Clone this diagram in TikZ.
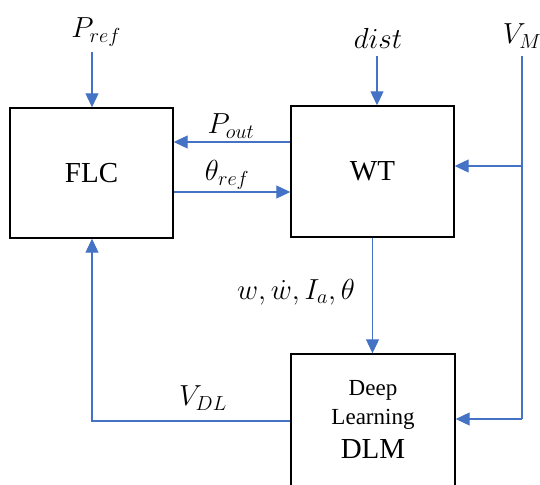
\RequirePackage{fix-cm}
\documentclass[tikz,border=0pt]{standalone}
\usepackage{fontspec}
\setmainfont{Liberation Serif}
\usetikzlibrary{arrows.meta}
\definecolor{lblue}{HTML}{4472C4}
\begin{document}
\begin{tikzpicture}[x=1pt,y=-1pt,
  box/.style={draw=black,line width=1.4pt,rectangle,inner sep=0pt,font=\fontsize{29}{33}\selectfont},
  conn/.style={draw=lblue,line width=1.1pt},
  arr/.style={conn,-{Triangle[length=14pt,width=13pt]}},
  lbl/.style={inner sep=0pt,font=\fontsize{29}{33}\selectfont}]
\useasboundingbox (0,0) rectangle (540,484);
\node[box,minimum width=163pt,minimum height=130pt] (flc) at (91.5,173) {FLC};
\node[box,minimum width=163pt,minimum height=131pt] (wt) at (372.5,171.5) {WT};
\node[box,minimum width=164pt,minimum height=150pt] (dlm) at (373,429) {};
\node[inner sep=0pt,align=center,font=\fontsize{23}{29}\selectfont] (dlmtext) at (373,419.5)
  {Deep\\Learning\\[5pt]{\fontsize{29}{29}\selectfont DLM}};
% labels
\node[lbl] (lpref) at (96,32) {$P_{ref}$};
\node[lbl] (lpout) at (231,126) {$P_{out}$};
\node[lbl] (ltheta) at (227,175) {$\theta_{ref}$};
\node[lbl] (ldist) at (378,38) {$dist$};
\node[lbl] (lvm) at (522,36) {$V_M$};
\node[lbl] (lw) at (296,292) {$w,\dot w,I_a,\theta$};
\node[lbl] (lvdl) at (203,398) {$V_{DL}$};
% coordinates
\coordinate (prefc) at (92,52);
\coordinate (distc) at (377,56);
\coordinate (vmtop) at (522,56);
\coordinate (vmj) at (522,166);
\coordinate (vmbot) at (522,419);
\coordinate (pouty) at (0,142);
\coordinate (thy) at (0,192);
\coordinate (vdly) at (0,421);
% connectors
\draw[arr] (prefc) -- (flc.north -| prefc);
\draw[arr] (wt.west |- pouty) -- (flc.east |- pouty);
\draw[arr] (flc.east |- thy) -- (wt.west |- thy);
\draw[arr] (distc) -- (wt.north -| distc);
\draw[conn] (vmtop) -- (vmbot);
\draw[arr] (vmj) -- (wt.east |- vmj);
\draw[arr] (vmbot) -- (dlm.east |- vmbot);
\draw[arr] (wt.south) -- (wt.south |- dlm.north);
\draw[arr] (dlm.west |- vdly) -| (flc.south -| prefc);
\end{tikzpicture}
\end{document}
